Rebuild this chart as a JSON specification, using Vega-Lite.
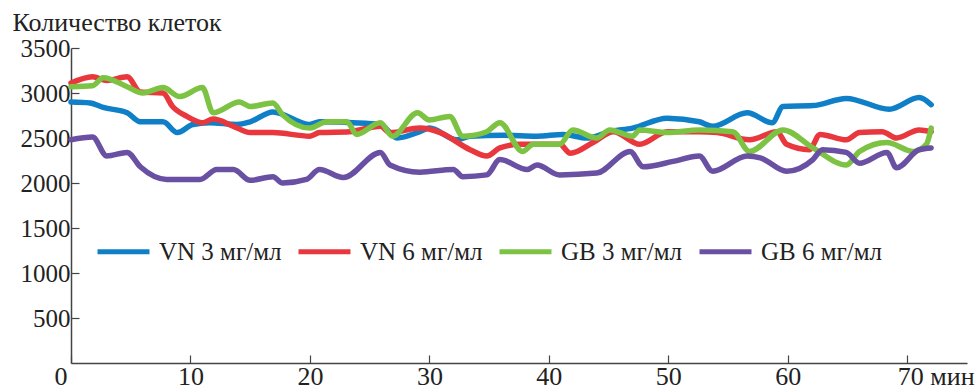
{
  "$schema": "https://vega.github.io/schema/vega-lite/v6.json",
  "width": 896,
  "height": 315,
  "autosize": {"type": "none"},
  "padding": {"left": 71, "top": 48, "right": 9, "bottom": 28},
  "background": "white",
  "config": {
    "view": {"stroke": null},
    "font": "Liberation Serif"
  },
  "data": {
    "values": [
      {"s": "VN 3 мг/мл", "t": 0, "v": 2900}, {"s": "VN 3 мг/мл", "t": 1.6, "v": 2890}, {"s": "VN 3 мг/мл", "t": 2.7, "v": 2840}, {"s": "VN 3 мг/мл", "t": 4.7, "v": 2780}, {"s": "VN 3 мг/мл", "t": 5.8, "v": 2680}, {"s": "VN 3 мг/мл", "t": 7.7, "v": 2680}, {"s": "VN 3 мг/мл", "t": 8.9, "v": 2560}, {"s": "VN 3 мг/мл", "t": 10.2, "v": 2650}, {"s": "VN 3 мг/мл", "t": 11.6, "v": 2670}, {"s": "VN 3 мг/мл", "t": 13.9, "v": 2650}, {"s": "VN 3 мг/мл", "t": 15.0, "v": 2680}, {"s": "VN 3 мг/мл", "t": 16.9, "v": 2790}, {"s": "VN 3 мг/мл", "t": 20.0, "v": 2650}, {"s": "VN 3 мг/мл", "t": 20.8, "v": 2680}, {"s": "VN 3 мг/мл", "t": 23.6, "v": 2670}, {"s": "VN 3 мг/мл", "t": 25.9, "v": 2650}, {"s": "VN 3 мг/мл", "t": 27.3, "v": 2500}, {"s": "VN 3 мг/мл", "t": 29.2, "v": 2570}, {"s": "VN 3 мг/мл", "t": 30.0, "v": 2610}, {"s": "VN 3 мг/мл", "t": 32.3, "v": 2480}, {"s": "VN 3 мг/мл", "t": 33.4, "v": 2520}, {"s": "VN 3 мг/мл", "t": 36.2, "v": 2530}, {"s": "VN 3 мг/мл", "t": 39.0, "v": 2520}, {"s": "VN 3 мг/мл", "t": 41.2, "v": 2540}, {"s": "VN 3 мг/мл", "t": 43.2, "v": 2500}, {"s": "VN 3 мг/мл", "t": 45.1, "v": 2570}, {"s": "VN 3 мг/мл", "t": 47.0, "v": 2610}, {"s": "VN 3 мг/мл", "t": 49.9, "v": 2720}, {"s": "VN 3 мг/мл", "t": 52.6, "v": 2680}, {"s": "VN 3 мг/мл", "t": 53.7, "v": 2630}, {"s": "VN 3 мг/мл", "t": 56.6, "v": 2780}, {"s": "VN 3 мг/мл", "t": 58.7, "v": 2670}, {"s": "VN 3 мг/мл", "t": 59.6, "v": 2850}, {"s": "VN 3 мг/мл", "t": 62.1, "v": 2860}, {"s": "VN 3 мг/мл", "t": 64.9, "v": 2940}, {"s": "VN 3 мг/мл", "t": 68.5, "v": 2820}, {"s": "VN 3 мг/мл", "t": 71.0, "v": 2950}, {"s": "VN 3 мг/мл", "t": 72.0, "v": 2870},

      {"s": "VN 6 мг/мл", "t": 0, "v": 3110}, {"s": "VN 6 мг/мл", "t": 1.8, "v": 3180}, {"s": "VN 6 мг/мл", "t": 3.0, "v": 3140}, {"s": "VN 6 мг/мл", "t": 4.7, "v": 3180}, {"s": "VN 6 мг/мл", "t": 5.8, "v": 3010}, {"s": "VN 6 мг/мл", "t": 7.7, "v": 3000}, {"s": "VN 6 мг/мл", "t": 8.5, "v": 2850}, {"s": "VN 6 мг/мл", "t": 9.7, "v": 2740}, {"s": "VN 6 мг/мл", "t": 11.0, "v": 2670}, {"s": "VN 6 мг/мл", "t": 11.9, "v": 2710}, {"s": "VN 6 мг/мл", "t": 13.6, "v": 2630}, {"s": "VN 6 мг/мл", "t": 15.0, "v": 2560}, {"s": "VN 6 мг/мл", "t": 16.9, "v": 2560}, {"s": "VN 6 мг/мл", "t": 20.0, "v": 2520}, {"s": "VN 6 мг/мл", "t": 20.8, "v": 2560}, {"s": "VN 6 мг/мл", "t": 23.3, "v": 2570}, {"s": "VN 6 мг/мл", "t": 25.9, "v": 2630}, {"s": "VN 6 мг/мл", "t": 26.7, "v": 2560}, {"s": "VN 6 мг/мл", "t": 29.2, "v": 2610}, {"s": "VN 6 мг/мл", "t": 30.9, "v": 2560}, {"s": "VN 6 мг/мл", "t": 33.4, "v": 2370}, {"s": "VN 6 мг/мл", "t": 34.8, "v": 2300}, {"s": "VN 6 мг/мл", "t": 35.9, "v": 2390}, {"s": "VN 6 мг/мл", "t": 37.6, "v": 2430}, {"s": "VN 6 мг/мл", "t": 40.9, "v": 2430}, {"s": "VN 6 мг/мл", "t": 41.8, "v": 2330}, {"s": "VN 6 мг/мл", "t": 43.7, "v": 2450}, {"s": "VN 6 мг/мл", "t": 45.4, "v": 2570}, {"s": "VN 6 мг/мл", "t": 47.6, "v": 2430}, {"s": "VN 6 мг/мл", "t": 49.9, "v": 2570}, {"s": "VN 6 мг/мл", "t": 52.6, "v": 2570}, {"s": "VN 6 мг/мл", "t": 54.1, "v": 2560}, {"s": "VN 6 мг/мл", "t": 56.8, "v": 2480}, {"s": "VN 6 мг/мл", "t": 59.1, "v": 2570}, {"s": "VN 6 мг/мл", "t": 59.9, "v": 2430}, {"s": "VN 6 мг/мл", "t": 61.8, "v": 2370}, {"s": "VN 6 мг/мл", "t": 62.7, "v": 2540}, {"s": "VN 6 мг/мл", "t": 64.9, "v": 2480}, {"s": "VN 6 мг/мл", "t": 66.0, "v": 2560}, {"s": "VN 6 мг/мл", "t": 67.9, "v": 2570}, {"s": "VN 6 мг/мл", "t": 69.1, "v": 2500}, {"s": "VN 6 мг/мл", "t": 71.0, "v": 2590}, {"s": "VN 6 мг/мл", "t": 72.0, "v": 2570},

      {"s": "GB 3 мг/мл", "t": 0, "v": 3070}, {"s": "GB 3 мг/мл", "t": 1.8, "v": 3080}, {"s": "GB 3 мг/мл", "t": 2.7, "v": 3170}, {"s": "GB 3 мг/мл", "t": 4.7, "v": 3070}, {"s": "GB 3 мг/мл", "t": 6.0, "v": 3000}, {"s": "GB 3 мг/мл", "t": 7.7, "v": 3060}, {"s": "GB 3 мг/мл", "t": 9.1, "v": 2960}, {"s": "GB 3 мг/мл", "t": 11.0, "v": 3060}, {"s": "GB 3 мг/мл", "t": 11.9, "v": 2780}, {"s": "GB 3 мг/мл", "t": 14.1, "v": 2900}, {"s": "GB 3 мг/мл", "t": 15.0, "v": 2850}, {"s": "GB 3 мг/мл", "t": 16.9, "v": 2890}, {"s": "GB 3 мг/мл", "t": 17.7, "v": 2760}, {"s": "GB 3 мг/мл", "t": 20.0, "v": 2610}, {"s": "GB 3 мг/мл", "t": 21.4, "v": 2680}, {"s": "GB 3 мг/мл", "t": 23.1, "v": 2680}, {"s": "GB 3 мг/мл", "t": 23.9, "v": 2540}, {"s": "GB 3 мг/мл", "t": 25.9, "v": 2670}, {"s": "GB 3 мг/мл", "t": 26.9, "v": 2520}, {"s": "GB 3 мг/мл", "t": 29.0, "v": 2780}, {"s": "GB 3 мг/мл", "t": 30.0, "v": 2700}, {"s": "GB 3 мг/мл", "t": 31.7, "v": 2740}, {"s": "GB 3 мг/мл", "t": 32.8, "v": 2520}, {"s": "GB 3 мг/мл", "t": 34.8, "v": 2570}, {"s": "GB 3 мг/мл", "t": 35.9, "v": 2670}, {"s": "GB 3 мг/мл", "t": 37.8, "v": 2350}, {"s": "GB 3 мг/мл", "t": 38.7, "v": 2430}, {"s": "GB 3 мг/мл", "t": 40.9, "v": 2430}, {"s": "GB 3 мг/мл", "t": 42.0, "v": 2590}, {"s": "GB 3 мг/мл", "t": 44.0, "v": 2500}, {"s": "GB 3 мг/мл", "t": 45.1, "v": 2590}, {"s": "GB 3 мг/мл", "t": 47.0, "v": 2520}, {"s": "GB 3 мг/мл", "t": 47.6, "v": 2590}, {"s": "GB 3 мг/мл", "t": 49.9, "v": 2560}, {"s": "GB 3 мг/мл", "t": 52.6, "v": 2590}, {"s": "GB 3 мг/мл", "t": 55.4, "v": 2570}, {"s": "GB 3 мг/мл", "t": 56.8, "v": 2350}, {"s": "GB 3 мг/мл", "t": 59.6, "v": 2590}, {"s": "GB 3 мг/мл", "t": 62.1, "v": 2390}, {"s": "GB 3 мг/мл", "t": 64.9, "v": 2200}, {"s": "GB 3 мг/мл", "t": 66.0, "v": 2350}, {"s": "GB 3 мг/мл", "t": 68.3, "v": 2450}, {"s": "GB 3 мг/мл", "t": 70.5, "v": 2350}, {"s": "GB 3 мг/мл", "t": 71.6, "v": 2430}, {"s": "GB 3 мг/мл", "t": 72.0, "v": 2610},

      {"s": "GB 6 мг/мл", "t": 0, "v": 2480}, {"s": "GB 6 мг/мл", "t": 1.8, "v": 2510}, {"s": "GB 6 мг/мл", "t": 3.0, "v": 2300}, {"s": "GB 6 мг/мл", "t": 4.7, "v": 2340}, {"s": "GB 6 мг/мл", "t": 5.8, "v": 2180}, {"s": "GB 6 мг/мл", "t": 8.0, "v": 2040}, {"s": "GB 6 мг/мл", "t": 10.8, "v": 2040}, {"s": "GB 6 мг/мл", "t": 12.2, "v": 2150}, {"s": "GB 6 мг/мл", "t": 13.6, "v": 2150}, {"s": "GB 6 мг/мл", "t": 15.0, "v": 2030}, {"s": "GB 6 мг/мл", "t": 16.9, "v": 2070}, {"s": "GB 6 мг/мл", "t": 17.7, "v": 2000}, {"s": "GB 6 мг/мл", "t": 19.7, "v": 2040}, {"s": "GB 6 мг/мл", "t": 20.8, "v": 2150}, {"s": "GB 6 мг/мл", "t": 22.8, "v": 2060}, {"s": "GB 6 мг/мл", "t": 25.9, "v": 2340}, {"s": "GB 6 мг/мл", "t": 26.7, "v": 2200}, {"s": "GB 6 мг/мл", "t": 29.2, "v": 2120}, {"s": "GB 6 мг/мл", "t": 32.0, "v": 2150}, {"s": "GB 6 мг/мл", "t": 32.8, "v": 2070}, {"s": "GB 6 мг/мл", "t": 34.8, "v": 2090}, {"s": "GB 6 мг/мл", "t": 35.9, "v": 2260}, {"s": "GB 6 мг/мл", "t": 38.2, "v": 2150}, {"s": "GB 6 мг/мл", "t": 39.0, "v": 2200}, {"s": "GB 6 мг/мл", "t": 40.9, "v": 2090}, {"s": "GB 6 мг/мл", "t": 44.0, "v": 2110}, {"s": "GB 6 мг/мл", "t": 46.8, "v": 2350}, {"s": "GB 6 мг/мл", "t": 47.9, "v": 2180}, {"s": "GB 6 мг/мл", "t": 50.4, "v": 2240}, {"s": "GB 6 мг/мл", "t": 52.6, "v": 2300}, {"s": "GB 6 мг/мл", "t": 53.7, "v": 2130}, {"s": "GB 6 мг/мл", "t": 56.6, "v": 2300}, {"s": "GB 6 мг/мл", "t": 57.7, "v": 2280}, {"s": "GB 6 мг/мл", "t": 59.9, "v": 2130}, {"s": "GB 6 мг/мл", "t": 62.1, "v": 2260}, {"s": "GB 6 мг/мл", "t": 62.9, "v": 2370}, {"s": "GB 6 мг/мл", "t": 64.9, "v": 2340}, {"s": "GB 6 мг/мл", "t": 66.0, "v": 2220}, {"s": "GB 6 мг/мл", "t": 68.3, "v": 2340}, {"s": "GB 6 мг/мл", "t": 69.1, "v": 2170}, {"s": "GB 6 мг/мл", "t": 71.0, "v": 2370}, {"s": "GB 6 мг/мл", "t": 72.0, "v": 2390}
    ]
  },
  "mark": {"type": "line", "interpolate": "monotone", "strokeWidth": 5.5, "strokeCap": "round", "strokeJoin": "round"},
  "encoding": {
    "x": {
      "field": "t", "type": "quantitative",
      "scale": {"domain": [0, 75], "nice": false, "zero": false},
      "axis": {
        "title": null,
        "values": [0, 10, 20, 30, 40, 50, 60, 70],
        "grid": false,
        "domainColor": "#444", "domainWidth": 1.5,
        "tickColor": "#444", "tickWidth": 1.2, "tickSize": -8,
        "labelFont": "Liberation Serif", "labelFontSize": 26, "labelColor": "#222",
        "labelBaseline": "alphabetic", "labelPadding": 29,
        "labelExpr": "datum.value == 70 ? '70 мин' : datum.label",
        "labelAlign": {"condition": [{"test": "datum.value == 70", "value": "left"}, {"test": "datum.value == 0", "value": "right"}], "value": "center"},
        "labelOffset": {"condition": [{"test": "datum.value == 70", "value": -10}, {"test": "datum.value == 0", "value": -4}], "value": 0}
      }
    },
    "y": {
      "field": "v", "type": "quantitative",
      "scale": {"domain": [0, 3500], "nice": false},
      "axis": {
        "title": "Количество клеток",
        "titleAngle": 0, "titleX": -59, "titleY": -18, "titleAlign": "left", "titleBaseline": "alphabetic",
        "titleFont": "Liberation Serif", "titleFontSize": 26, "titleFontWeight": "normal", "titleColor": "#222",
        "values": [500, 1000, 1500, 2000, 2500, 3000, 3500],
        "format": "d",
        "grid": false,
        "domainColor": "#444", "domainWidth": 1.5,
        "tickColor": "#444", "tickWidth": 1.2, "tickSize": -8,
        "labelFont": "Liberation Serif", "labelFontSize": 25, "labelColor": "#222",
        "labelPadding": 9
      }
    },
    "color": {
      "field": "s", "type": "nominal",
      "scale": {"domain": ["VN 3 мг/мл", "VN 6 мг/мл", "GB 3 мг/мл", "GB 6 мг/мл"], "range": ["#0f80c7", "#e8373d", "#7cc243", "#6a50a2"]},
      "legend": {
        "title": null,
        "orient": "none", "legendX": 24, "legendY": 175,
        "direction": "horizontal",
        "symbolType": "stroke", "symbolSize": 2700, "symbolStrokeWidth": 5,
        "labelFont": "Liberation Serif", "labelFontSize": 25, "labelColor": "#222",
        "labelOffset": 7, "columnPadding": 6, "labelLimit": 300
      }
    }
  }
}
